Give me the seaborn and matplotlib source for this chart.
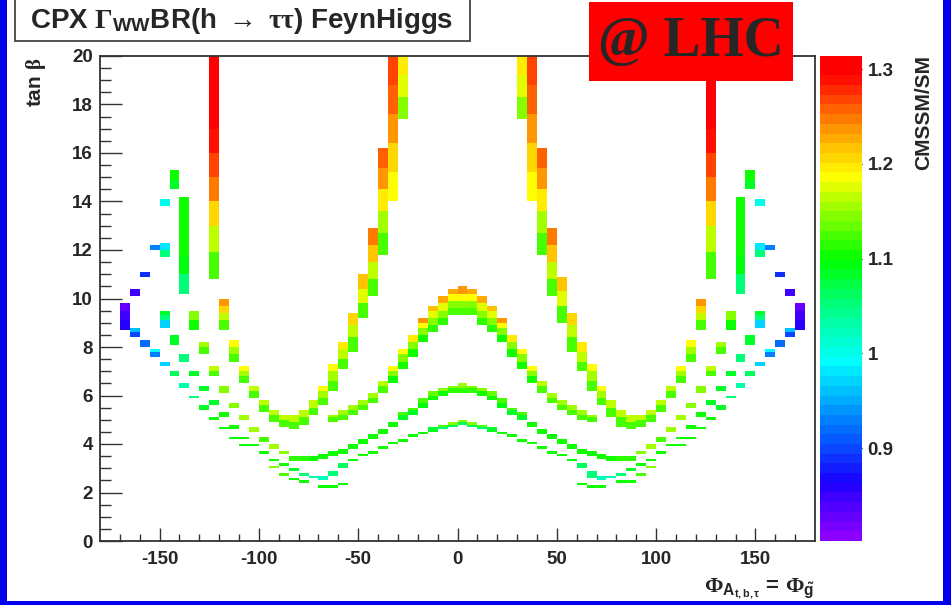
import numpy as np
import pandas as pd
import matplotlib
matplotlib.use("Agg")
import matplotlib.pyplot as plt
from matplotlib.colors import LinearSegmentedColormap, ListedColormap
from matplotlib.patches import Rectangle
import seaborn as sns

# =========================================================
# data : 2D histogram, 5 deg bins in phase, 0.1 bins in tan(beta)
# =========================================================
phi_edges = np.arange(-180, 181, 5)
tanb_edges = np.round(np.arange(0, 20.01, 0.1), 1)

# (phase bin low edge, tanb low, tanb high, CMSSM/SM values bottom -> top)
center_blocks = [
    (0, 9.3, 10.5, [1.12, 1.15, 1.19, 1.24]),
    (0, 6.1, 6.5, [1.11, 1.14, 1.16]),
    (0, 4.8, 5.0, [1.06, 1.15]),
]

left_blocks = [
    # upper dome
    (-5, 9.3, 10.4, [1.12, 1.15, 1.19, 1.23]),
    (-10, 8.9, 10.1, [1.11, 1.14, 1.18, 1.23]),
    (-15, 8.6, 9.7, [1.11, 1.14, 1.18, 1.22]),
    (-20, 8.2, 9.2, [1.10, 1.14, 1.19, 1.24]),
    (-25, 7.6, 8.5, [1.10, 1.15, 1.20]),
    (-30, 7.1, 7.9, [1.10, 1.15, 1.19]),
    (-35, 6.5, 7.2, [1.10, 1.15, 1.19]),
    (-40, 6.1, 6.6, [1.12, 1.17]),
    (-45, 5.7, 6.1, [1.12, 1.16]),
    (-50, 5.4, 5.8, [1.12, 1.16]),
    (-55, 5.2, 5.6, [1.12, 1.16]),
    (-60, 5.0, 5.4, [1.12, 1.16]),
    (-65, 4.9, 5.2, [1.12, 1.16]),
    # steep arm, columns and outer arm
    (-30, 17.4, 20.0, [1.15, 1.18, 1.20]),
    (-35, 14.0, 20.0, [1.19, 1.21, 1.24, 1.26, 1.27]),
    (-40, 11.8, 16.2, [1.12, 1.16, 1.20, 1.24, 1.26]),
    (-45, 10.1, 12.9, [1.12, 1.17, 1.22, 1.25]),
    (-50, 9.2, 11.0, [1.12, 1.18, 1.22]),
    (-55, 7.8, 9.4, [1.12, 1.17, 1.21]),
    (-60, 7.1, 8.2, [1.12, 1.17, 1.20]),
    (-65, 6.2, 7.3, [1.12, 1.16, 1.19]),
    (-70, 5.6, 6.4, [1.12, 1.16, 1.19]),
    (-75, 5.2, 5.8, [1.12, 1.17]),
    (-80, 4.8, 5.4, [1.12, 1.17]),
    (-85, 4.6, 5.2, [1.12, 1.17]),
    (-90, 4.7, 5.2, [1.12, 1.17]),
    (-95, 4.9, 5.4, [1.12, 1.17]),
    (-100, 5.3, 5.8, [1.12, 1.17]),
    (-105, 5.9, 6.4, [1.12, 1.17]),
    (-110, 6.5, 7.2, [1.12, 1.16, 1.19]),
    (-115, 7.4, 8.3, [1.12, 1.16, 1.19]),
    (-120, 8.7, 10.0, [1.12, 1.17, 1.21, 1.24]),
    (-125, 10.8, 20.0, [1.12, 1.17, 1.21, 1.25, 1.27, 1.29, 1.30, 1.31, 1.31]),
    # middle band
    (-5, 6.1, 6.4, [1.11, 1.15]),
    (-10, 6.0, 6.3, [1.10, 1.14]),
    (-15, 5.8, 6.2, [1.10, 1.13]),
    (-20, 5.5, 5.9, [1.09, 1.12]),
    (-25, 5.2, 5.5, [1.08, 1.12]),
    (-30, 5.0, 5.3, [1.08, 1.12]),
    (-35, 4.7, 4.9, [1.10]),
    (-40, 4.4, 4.6, [1.10]),
    (-45, 4.2, 4.4, [1.10]),
    (-50, 4.0, 4.2, [1.10]),
    (-55, 3.8, 4.0, [1.10]),
    (-60, 3.6, 3.8, [1.10]),
    (-65, 3.5, 3.7, [1.10]),
    (-70, 3.4, 3.6, [1.10]),
    (-75, 3.3, 3.5, [1.10]),
    (-80, 3.3, 3.5, [1.11]),
    (-85, 3.3, 3.5, [1.11]),
    (-90, 3.6, 3.7, [1.14]),
    (-95, 3.8, 4.0, [1.16]),
    (-100, 4.1, 4.3, [1.12]),
    (-105, 4.5, 4.7, [1.16]),
    (-110, 5.0, 5.2, [1.16]),
    (-115, 5.5, 5.7, [1.14]),
    (-120, 6.1, 6.4, [1.15]),
    (-125, 6.8, 7.2, [1.12, 1.17]),
    (-130, 7.7, 8.2, [1.12, 1.16]),
    (-135, 8.7, 9.5, [1.10, 1.15]),
    # lower band
    (-5, 4.7, 4.9, [1.06, 1.14]),
    (-10, 4.6, 4.8, [1.05, 1.12]),
    (-15, 4.5, 4.7, [1.08]),
    (-20, 4.4, 4.5, [1.10]),
    (-25, 4.3, 4.4, [1.10]),
    (-30, 4.1, 4.2, [1.10]),
    (-35, 4.0, 4.1, [1.10]),
    (-40, 3.8, 3.9, [1.10]),
    (-45, 3.6, 3.7, [1.10]),
    (-50, 3.5, 3.6, [1.10]),
    (-55, 3.3, 3.4, [1.09]),
    (-60, 3.0, 3.2, [1.06]),
    (-65, 2.7, 2.9, [1.05]),
    (-70, 2.5, 2.7, [1.02]),
    (-75, 2.6, 2.7, [1.03]),
    (-80, 2.7, 2.8, [1.05]),
    (-85, 2.9, 3.0, [1.08]),
    (-90, 3.1, 3.2, [1.10]),
    (-95, 3.3, 3.4, [1.10]),
    (-100, 3.6, 3.7, [1.10]),
    (-105, 3.9, 4.0, [1.10]),
    (-110, 4.2, 4.3, [1.10]),
    (-115, 4.6, 4.8, [1.10]),
    (-120, 5.1, 5.3, [1.10]),
    (-125, 5.6, 5.8, [1.08]),
    (-130, 6.2, 6.4, [1.08]),
    (-135, 6.8, 7.0, [1.08]),
    (-140, 7.4, 7.7, [1.05]),
    (-145, 8.1, 8.5, [1.08]),
    (-150, 8.8, 9.5, [0.97, 1.05, 1.08]),
    # lowest band and outer chain
    (-60, 2.3, 2.4, [1.10]),
    (-65, 2.2, 2.3, [1.10]),
    (-70, 2.2, 2.3, [1.10]),
    (-80, 2.4, 2.5, [1.10]),
    (-85, 2.5, 2.6, [1.10]),
    (-90, 2.7, 2.8, [1.12]),
    (-95, 3.0, 3.1, [1.15]),
    (-110, 3.9, 4.0, [1.10]),
    (-115, 4.2, 4.3, [1.10]),
    (-120, 4.6, 4.7, [1.10]),
    (-125, 5.0, 5.1, [1.10]),
    (-130, 5.4, 5.6, [1.08]),
    (-135, 5.9, 6.0, [1.05]),
    (-140, 6.3, 6.5, [1.03]),
    (-145, 6.8, 7.0, [1.06]),
    (-150, 7.2, 7.4, [0.97]),
    (-155, 7.6, 7.9, [0.93, 0.99]),
    (-160, 8.0, 8.3, [0.92]),
    (-165, 8.4, 8.8, [0.90, 0.96]),
    (-170, 8.7, 9.8, [0.86, 0.85, 0.83]),
    # upper outer blocks
    (-140, 10.2, 14.2, [1.05, 1.09, 1.10, 1.10, 1.10]),
    (-145, 14.5, 15.3, [1.08, 1.10]),
    (-150, 13.8, 14.1, [1.00]),
    (-150, 11.7, 12.3, [1.05, 0.98]),
    (-155, 12.0, 12.2, [0.93]),
    (-160, 10.9, 11.1, [0.89]),
    (-165, 10.1, 10.4, [0.85]),
]

right_blocks = [
    # upper dome
    (5, 9.3, 10.4, [1.12, 1.15, 1.19, 1.23]),
    (10, 8.9, 10.1, [1.11, 1.14, 1.18, 1.23]),
    (15, 8.6, 9.7, [1.11, 1.14, 1.18, 1.22]),
    (20, 8.2, 9.2, [1.10, 1.14, 1.19, 1.24]),
    (25, 7.6, 8.5, [1.10, 1.15, 1.20]),
    (30, 7.1, 7.9, [1.10, 1.15, 1.19]),
    (35, 6.5, 7.2, [1.10, 1.15, 1.19]),
    (40, 6.1, 6.6, [1.12, 1.17]),
    (45, 5.7, 6.1, [1.12, 1.16]),
    (50, 5.4, 5.8, [1.12, 1.16]),
    (55, 5.2, 5.6, [1.12, 1.16]),
    (60, 5.0, 5.4, [1.12, 1.16]),
    (65, 4.9, 5.2, [1.12, 1.16]),
    # steep arm, columns and outer arm
    (30, 17.4, 20.0, [1.15, 1.18, 1.20]),
    (35, 14.0, 20.0, [1.19, 1.21, 1.24, 1.26, 1.27]),
    (40, 11.8, 16.2, [1.12, 1.16, 1.20, 1.24, 1.26]),
    (45, 10.1, 12.9, [1.12, 1.17, 1.22, 1.25]),
    (50, 9.0, 10.9, [1.12, 1.18, 1.22]),
    (55, 7.8, 9.4, [1.12, 1.17, 1.21]),
    (60, 7.0, 8.2, [1.12, 1.17, 1.20]),
    (65, 6.2, 7.3, [1.12, 1.16, 1.19]),
    (70, 5.6, 6.4, [1.12, 1.16, 1.19]),
    (75, 5.1, 5.8, [1.12, 1.17]),
    (80, 4.7, 5.4, [1.12, 1.17]),
    (85, 4.6, 5.2, [1.12, 1.17]),
    (90, 4.7, 5.2, [1.12, 1.17]),
    (95, 4.9, 5.4, [1.12, 1.17]),
    (100, 5.3, 5.8, [1.12, 1.17]),
    (105, 5.9, 6.4, [1.12, 1.17]),
    (110, 6.5, 7.2, [1.12, 1.16, 1.19]),
    (115, 7.4, 8.3, [1.12, 1.16, 1.19]),
    (120, 8.7, 10.0, [1.12, 1.17, 1.21, 1.24]),
    (125, 10.8, 20.0, [1.12, 1.17, 1.21, 1.25, 1.27, 1.29, 1.30, 1.31, 1.31]),
    # middle band
    (5, 6.1, 6.4, [1.11, 1.15]),
    (10, 6.0, 6.3, [1.10, 1.14]),
    (15, 5.8, 6.2, [1.10, 1.13]),
    (20, 5.5, 5.9, [1.09, 1.12]),
    (25, 5.2, 5.5, [1.08, 1.12]),
    (30, 5.0, 5.3, [1.08, 1.12]),
    (35, 4.7, 4.9, [1.10]),
    (40, 4.4, 4.6, [1.10]),
    (45, 4.2, 4.4, [1.10]),
    (50, 4.0, 4.2, [1.10]),
    (55, 3.8, 4.0, [1.10]),
    (60, 3.6, 3.8, [1.10]),
    (65, 3.5, 3.7, [1.10]),
    (70, 3.4, 3.6, [1.10]),
    (75, 3.3, 3.5, [1.10]),
    (80, 3.3, 3.5, [1.11]),
    (85, 3.3, 3.5, [1.11]),
    (90, 3.6, 3.7, [1.14]),
    (95, 3.8, 4.0, [1.16]),
    (100, 4.1, 4.3, [1.12]),
    (105, 4.5, 4.7, [1.16]),
    (110, 5.0, 5.2, [1.16]),
    (115, 5.5, 5.7, [1.14]),
    (120, 6.1, 6.4, [1.15]),
    (125, 6.8, 7.2, [1.12, 1.17]),
    (130, 7.7, 8.2, [1.12, 1.16]),
    (135, 8.7, 9.5, [1.10, 1.15]),
    # lower band
    (5, 4.7, 4.9, [1.06, 1.14]),
    (10, 4.6, 4.8, [1.05, 1.12]),
    (15, 4.5, 4.7, [1.08]),
    (20, 4.4, 4.5, [1.10]),
    (25, 4.3, 4.4, [1.10]),
    (30, 4.1, 4.2, [1.10]),
    (35, 4.0, 4.1, [1.10]),
    (40, 3.8, 3.9, [1.10]),
    (45, 3.6, 3.7, [1.10]),
    (50, 3.5, 3.6, [1.10]),
    (55, 3.3, 3.4, [1.09]),
    (60, 3.0, 3.2, [1.06]),
    (65, 2.6, 2.9, [1.05]),
    (70, 2.5, 2.7, [1.02]),
    (75, 2.6, 2.7, [1.03]),
    (80, 2.7, 2.8, [1.05]),
    (85, 2.9, 3.0, [1.08]),
    (90, 3.1, 3.2, [1.10]),
    (95, 3.3, 3.4, [1.10]),
    (100, 3.6, 3.7, [1.10]),
    (105, 3.9, 4.0, [1.10]),
    (110, 4.2, 4.3, [1.10]),
    (115, 4.6, 4.8, [1.10]),
    (120, 5.1, 5.3, [1.10]),
    (125, 5.6, 5.8, [1.08]),
    (130, 6.2, 6.4, [1.08]),
    (135, 6.8, 7.0, [1.08]),
    (140, 7.4, 7.7, [1.05]),
    (145, 8.1, 8.5, [1.08]),
    (150, 8.8, 9.5, [0.97, 1.05, 1.08]),
    # lowest band and outer chain
    (60, 2.3, 2.4, [1.10]),
    (65, 2.2, 2.3, [1.10]),
    (70, 2.2, 2.3, [1.10]),
    (80, 2.4, 2.5, [1.10]),
    (85, 2.4, 2.5, [1.10]),
    (90, 2.7, 2.8, [1.12]),
    (95, 3.0, 3.1, [1.15]),
    (110, 3.9, 4.0, [1.10]),
    (115, 4.2, 4.3, [1.10]),
    (120, 4.6, 4.7, [1.10]),
    (125, 5.0, 5.1, [1.10]),
    (130, 5.4, 5.6, [1.08]),
    (135, 5.9, 6.0, [1.05]),
    (140, 6.3, 6.5, [1.03]),
    (145, 6.8, 7.0, [1.06]),
    (150, 7.2, 7.4, [0.97]),
    (155, 7.6, 7.9, [0.93, 0.99]),
    (160, 8.0, 8.3, [0.92]),
    (165, 8.4, 8.8, [0.90, 0.96]),
    (170, 8.7, 9.8, [0.86, 0.85, 0.83]),
    # upper outer blocks
    (140, 10.2, 14.2, [1.05, 1.09, 1.10, 1.10, 1.10]),
    (145, 14.5, 15.3, [1.08, 1.10]),
    (150, 13.8, 14.1, [1.00]),
    (150, 11.7, 12.3, [1.05, 0.98]),
    (155, 12.0, 12.2, [0.93]),
    (160, 10.9, 11.1, [0.89]),
    (165, 10.1, 10.4, [0.85]),
]

x_ticks = [-150, -100, -50, 0, 50, 100, 150]
y_ticks = list(range(0, 21, 2))
cbar_ticks = [0.9, 1.0, 1.1, 1.2, 1.3]
cbar_ticklabels = ["0.9", "1", "1.1", "1.2", "1.3"]
z_min, z_max = 0.802, 1.314

# =========================================================
# fill the histogram grid
# =========================================================
grid = np.full((len(tanb_edges) - 1, len(phi_edges) - 1), np.nan)
for phi, lo, hi, vals in center_blocks + left_blocks + right_blocks:
    col = int((phi + 180) // 5)
    rows = np.arange(int(round(lo * 10)), int(round(hi * 10)))
    for part, v in zip(np.array_split(rows, len(vals)), vals):
        grid[part, col] = v
df = pd.DataFrame(grid, index=tanb_edges[:-1], columns=phi_edges[:-1])

# ROOT style rainbow palette, 50 levels
nodes = [(0.802, (0.55, 0.0, 1.0)), (0.86, (0.1, 0.0, 1.0)), (0.92, (0.0, 0.45, 1.0)),
         (0.99, (0.0, 1.0, 1.0)), (1.05, (0.0, 1.0, 0.5)), (1.10, (0.0, 1.0, 0.0)),
         (1.15, (0.55, 1.0, 0.0)), (1.19, (1.0, 1.0, 0.0)), (1.24, (1.0, 0.6, 0.0)),
         (1.30, (1.0, 0.0, 0.0)), (1.314, (1.0, 0.0, 0.0))]
smooth = LinearSegmentedColormap.from_list(
    "root", [((v - z_min) / (z_max - z_min), c) for v, c in nodes])
cmap = ListedColormap(smooth(np.linspace(0, 1, 50)))

# =========================================================
# plot
# =========================================================
sns.set_theme(style="white")
plt.rcParams["font.family"] = ["Liberation Sans", "DejaVu Sans"]
plt.rcParams["font.weight"] = "bold"
plt.rcParams["mathtext.fontset"] = "custom"
plt.rcParams["mathtext.rm"] = "Liberation Serif"
plt.rcParams["mathtext.it"] = "Liberation Serif:italic"
plt.rcParams["mathtext.bf"] = "Liberation Sans:bold"

W, H = 951, 605
fig = plt.figure(figsize=(W / 100, H / 100), dpi=100)
ax = fig.add_axes([100 / W, 64 / H, 715 / W, 485 / H])
cax = fig.add_axes([820 / W, 64 / H, 42 / W, 485 / H])

sns.heatmap(df, ax=ax, cmap=cmap, vmin=z_min, vmax=z_max, cbar_ax=cax,
            xticklabels=False, yticklabels=False)
ax.set_xlim(0, 72)
ax.set_ylim(0, 200)

for s in ax.spines.values():
    s.set_visible(True)
    s.set_color("#333333")
    s.set_linewidth(1.3)

tick_fs = 13.5
ax.set_xticks([(d + 180) / 5 for d in x_ticks])
ax.set_xticklabels([str(d) for d in x_ticks], fontsize=tick_fs, fontweight="bold")
ax.set_xticks([(d + 180) / 5 for d in range(-170, 180, 10)], minor=True)
ax.set_yticks([t * 10 for t in y_ticks])
ax.set_yticklabels([str(t) for t in y_ticks], fontsize=tick_fs, fontweight="bold", rotation=0)
ax.set_yticks([t * 10 for t in np.arange(0, 20.01, 0.5)], minor=True)
ax.tick_params(axis="x", which="major", direction="in", length=9.5, width=1, color="#333333",
               bottom=True, pad=7)
ax.tick_params(axis="x", which="minor", direction="in", length=5, width=1, color="#333333",
               bottom=True)
ax.tick_params(axis="y", which="major", direction="in", length=16, width=1, color="#333333",
               left=True, pad=5)
ax.tick_params(axis="y", which="minor", direction="in", length=8, width=1, color="#333333",
               left=True)
ax.set_xlabel("")
ax.set_ylabel("")

cbar = ax.collections[0].colorbar
cbar.outline.set_visible(False)
cbar.set_ticks(cbar_ticks)
cbar.set_ticklabels(cbar_ticklabels)
cax.tick_params(direction="in", length=16, width=1, color="black", right=True,
                labelsize=tick_fs, pad=4)
for t in cax.get_yticklabels():
    t.set_fontweight("bold")

# axis titles
fig.text(36 / W, 1 - 58 / H, r"tan $\mathrm{\beta}$", rotation=90, ha="center", va="top",
         fontsize=15, fontweight="bold")
fig.text(815 / W, 1 - 601 / H, r"$\Phi_{\mathbf{A_{t,b,\tau}}}\,\mathbf{=}\,\Phi_{\mathbf{\tilde{g}}}$",
         ha="right", va="bottom", fontsize=16)
fig.text(924 / W, 1 - 55 / H, "CMSSM/SM", rotation=90, ha="center", va="top",
         fontsize=15, fontweight="bold")

# title box
fig.add_artist(Rectangle((15 / W, 1 - 41 / H), 455 / W, 60 / H, transform=fig.transFigure,
                         facecolor="white", edgecolor="#444444", lw=1.3))
fig.text(242 / W, 1 - 21 / H, r"CPX $\Gamma_{\mathbf{WW}}$BR(h $\rightarrow$ $\mathrm{\tau\tau}$) FeynHiggs",
         ha="center", va="center", fontsize=20, fontweight="bold")

# @ LHC label
fig.add_artist(Rectangle((589 / W, 1 - 81 / H), 204 / W, 79 / H, transform=fig.transFigure,
                         facecolor="#ff0000", edgecolor="none", zorder=5))
fig.text(691 / W, 1 - 42 / H, "@ LHC", ha="center", va="center", fontsize=40,
         fontweight="bold", family="Liberation Serif", zorder=6)

# blue slide border
for x0, y0, w, h in [(0, 0, 7, H), (943, 0, 8, H), (0, 0, W, 4)]:
    fig.add_artist(Rectangle((x0 / W, y0 / H), w / W, h / H, transform=fig.transFigure,
                             facecolor="#0000ee", edgecolor="none", zorder=7))

fig.savefig("out.png", dpi=100)
